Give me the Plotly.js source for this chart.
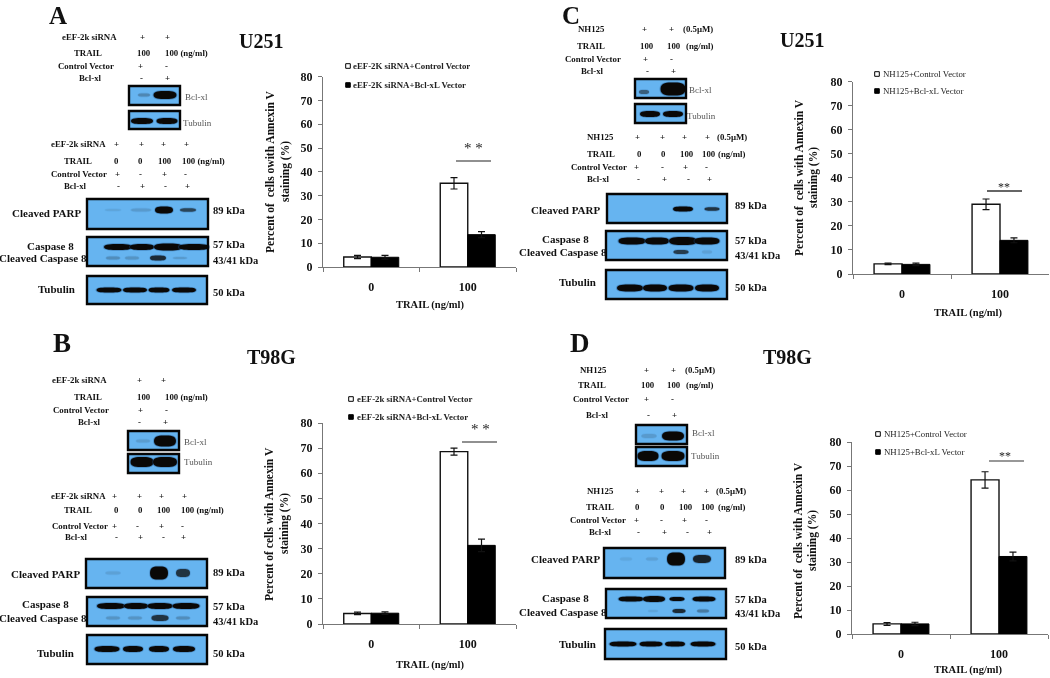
<!DOCTYPE html>
<html><head><meta charset="utf-8">
<script src="https://cdn.plot.ly/plotly-3.0.1.min.js"></script>
<style>html,body{margin:0;padding:0;background:#fff}#plot{width:1050px;height:678px;filter:blur(0.35px)}</style>
</head><body><div id="plot"></div>
<script>
// ---------- chart values ----------
const trailDoses = ["0","100"];
const yTicks = [0,10,20,30,40,50,60,70,80];
const controlA = [4.2,35.2],  controlErrA = [0.7,2.4], bclA = [4.1,13.6], bclErrA = [0.8,1.3];
const controlB = [4.2,68.6],  controlErrB = [0.5,1.4], bclB = [4.3,31.3], bclErrB = [0.5,2.5];
const controlC = [4.2,29.0],  controlErrC = [0.3,2.2], bclC = [4.0,14.0], bclErrC = [0.5,1.0];
const controlD = [4.2,64.2],  controlErrD = [0.6,3.4], bclD = [4.2,32.3], bclErrD = [0.7,1.8];
// blot band darkness (0 = none, 1 = saturated)
const A_bcl=[.35,1], A_tubTop=[1,1], A_parp=[.12,.2,1,.65], A_casp=[1,1,1,1], A_clv=[.3,.25,.8,.2], A_tub=[1,1,1,1];
const B_bcl=[.18,1], B_tubTop=[1,1], B_parp=[.15,1,.75], B_casp=[1,1,1,1], B_clv=[.25,.25,.75,.3], B_tub=[1,1,1,1];
const C_bclLow=[.5], C_bclHigh=[1], C_tubTop=[1,1], C_parp=[1,.75], C_casp=[1,1,1,1], C_clv=[.7,.15], C_tub=[1,1,1,1];
const D_bcl=[.2,1], D_tubTop=[1,1], D_parp=[.1,.15,1,.85], D_casp=[1,1,1,1], D_clv=[.12,.8,.45], D_tub=[1,1,1,1];

// ---------- layout helpers ----------
const W=1050,H=678,SERIF="Liberation Serif, Times New Roman, serif";
const BG="#66b4f0",DARK=[10,8,6],BGRGB=[102,180,240];
const fx=x=>x/W, fy=y=>1-y/H;
const annotations=[],shapes=[];
function t(x,y,text,size,o={}){annotations.push({x:fx(x),y:fy(y),xref:"paper",yref:"paper",text,showarrow:false,
  xanchor:o.a||"center",yanchor:"middle",textangle:o.angle||0,borderpad:0,
  font:{family:SERIF,size,color:o.c||"#111",weight:o.w||700}});}
function mix(v){const k=Math.min(1,v);const c=BGRGB.map((b,i)=>Math.round(b+(DARK[i]-b)*k));return `rgb(${c})`;}
function ell(cx,cy,w,h,fill,op){
  // a flattened, blunt-ended blot band
  const L=fx(cx-w/2),R=fx(cx+w/2),Tp=fy(cy-h/2),Bt=fy(cy+h/2),M=fy(cy),kx=w*0.28/W;
  const path=`M ${L} ${M} C ${L} ${Tp}, ${L+kx} ${Tp}, ${fx(cx)} ${Tp} C ${R-kx} ${Tp}, ${R} ${Tp}, ${R} ${M} C ${R} ${Bt}, ${R-kx} ${Bt}, ${fx(cx)} ${Bt} C ${L+kx} ${Bt}, ${L} ${Bt}, ${L} ${M} Z`;
  shapes.push({type:"path",xref:"paper",yref:"paper",path,fillcolor:fill,opacity:op,line:{width:0}});
}
function blot(x0,y0,x1,y1,rows){
  shapes.push({type:"rect",xref:"paper",yref:"paper",x0:fx(x0),x1:fx(x1),y0:fy(y0),y1:fy(y1),fillcolor:BG,line:{width:0}});
  rows.forEach(r=>r.vals.forEach((v,i)=>{
    const w=r.w[i]||r.w[0],h=r.h[i]||r.h[0];
    ell(r.xs[i],r.y,w*1.08,h+1.6,"#1c4a80",0.4*v);
    ell(r.xs[i],r.y,w,h,mix(v<.5?v*.75:v),1);
  }));
  shapes.push({type:"rect",xref:"paper",yref:"paper",x0:fx(x0),x1:fx(x1),y0:fy(y0),y1:fy(y1),line:{color:"#050505",width:2.4}});
}
function row(y,name,nx,items,size){t(nx,y,name,size||8.8);items.forEach(it=>{
  t(it[0],y,it[1],it[2]||8.8,{a:it[3]||"center"});});}
function legend(sx,y1,y2,lx,l1,l2,w){
  [[y1,"#fff"],[y2,"#000"]].forEach(([y,f])=>shapes.push({type:"rect",xref:"paper",yref:"paper",
    x0:fx(sx-2.3),x1:fx(sx+2.3),y0:fy(y-2.3),y1:fy(y+2.3),fillcolor:f,line:{color:"#000",width:1}}));
  t(lx,y1,l1,8.8,{a:"left",w,c:"#222"});t(lx,y2,l2,8.8,{a:"left",w,c:"#222"});
}
function sig(text,sx,sy,lx0,lx1,ly,color,lw,size){
  t(sx,sy,text,size,{w:400,c:"#222"});
  shapes.push({type:"line",xref:"paper",yref:"paper",x0:fx(lx0),x1:fx(lx1),y0:fy(ly),y1:fy(ly),line:{color,width:lw}});
}
function kda(x,a,b,c,d){[[a,"89 kDa"],[b,"57 kDa"],[c,"43/41 kDa"],[d,"50 kDa"]].forEach(([y,s])=>t(x,y,s,10.5,{a:"left"}));}
function blotNames(cp,cpy,c8,c8y,cc,ccy,tb,tby){t(cp,cpy,"Cleaved PARP",11);t(c8,c8y,"Caspase 8",11);t(cc,ccy,"Cleaved Caspase 8",11);t(tb,tby,"Tubulin",11);}

// ---------- panel A ----------
t(58,15,"A",25);t(238,41,"U251",20,{a:"left"});
row(37,"eEF-2k siRNA",89,[[142,"+"],[167,"+"]]);
row(53,"TRAIL",88,[[144,"100"],[164,"100 (ng/ml)",8.8,"left"]]);
row(66,"Control Vector",86,[[140,"+"],[166,"-"]]);
row(78,"Bcl-xl",90,[[141,"-"],[167,"+"]]);
t(184,97,"Bcl-xl",9,{a:"left",w:400,c:"#555"});t(182,123,"Tubulin",9,{a:"left",w:400,c:"#555"});
row(144,"eEF-2k siRNA",78,[[116,"+"],[141,"+"],[163,"+"],[186,"+"]]);
row(161,"TRAIL",78,[[116,"0"],[140,"0"],[165,"100"],[181,"100 (ng/ml)",8.8,"left"]]);
row(174,"Control Vector",79,[[117,"+"],[140,"-"],[164,"+"],[185,"-"]]);
row(186,"Bcl-xl",75,[[118,"-"],[142,"+"],[165,"-"],[187,"+"]]);
blot(129,86,180,105,[{y:95,xs:[144,165],w:[12,23],h:[3,8],vals:A_bcl}]);
blot(129,111,180,129,[{y:121,xs:[142,167],w:[22,21],h:[6,6],vals:A_tubTop}]);
blot(87,199,208,229,[{y:210,xs:[113,141,164,188],w:[16,20,18,16],h:[2,3,7,3.5],vals:A_parp}]);
blot(87,237,208,266,[{y:247,xs:[118,142,168,194],w:[28,24,28,30],h:[6,6,7,6],vals:A_casp},
  {y:258,xs:[113,132,158,180],w:[14,14,16,14],h:[3,3,5,2],vals:A_clv}]);
blot(87,276,207,304,[{y:290,xs:[109,135,159,184],w:[25,24,21,24],h:[5,5,5,5],vals:A_tub}]);
blotNames(46,213,50,246,43,258,56,289);kda(212,210,245,260,292);

// ---------- panel B ----------
t(62,343,"B",27);t(246,357,"T98G",20,{a:"left"});
row(380,"eEF-2k siRNA",79,[[139,"+"],[163,"+"]]);
row(397,"TRAIL",88,[[144,"100"],[164,"100 (ng/ml)",8.8,"left"]]);
row(410,"Control Vector",81,[[140,"+"],[166,"-"]]);
row(422,"Bcl-xl",89,[[139,"-"],[165,"+"]]);
t(183,442,"Bcl-xl",9,{a:"left",w:400,c:"#555"});t(183,462,"Tubulin",9,{a:"left",w:400,c:"#555"});
row(496,"eEF-2k siRNA",78,[[114,"+"],[139,"+"],[161,"+"],[184,"+"]]);
row(510,"TRAIL",78,[[116,"0"],[140,"0"],[164,"100"],[180,"100 (ng/ml)",8.8,"left"]]);
row(526,"Control Vector",80,[[114,"+"],[137,"-"],[161,"+"],[182,"-"]]);
row(537,"Bcl-xl",76,[[116,"-"],[140,"+"],[163,"-"],[183,"+"]]);
blot(128,431,179,450,[{y:441,xs:[143,165],w:[14,22],h:[3,11],vals:B_bcl}]);
blot(128,454,179,473,[{y:462,xs:[142,165],w:[23,24],h:[10,10],vals:B_tubTop}]);
blot(86,559,207,588,[{y:573,xs:[113,159,183],w:[15,18,14],h:[3,13,8],vals:B_parp}]);
blot(87,597,207,626,[{y:606,xs:[111,136,160,186],w:[28,24,25,27],h:[6,6,6,6],vals:B_casp},
  {y:618,xs:[113,135,160,183],w:[14,14,17,14],h:[3,3,6,3],vals:B_clv}]);
blot(87,635,207,664,[{y:649,xs:[107,133,159,184],w:[25,20,20,22],h:[6,6,6,6],vals:B_tub}]);
blotNames(45,574,45,604,43,618,55,653);kda(212,572,606,621,653);

// ---------- panel C ----------
t(571,15,"C",25);t(779,40,"U251",20,{a:"left"});
row(29,"NH125",591,[[644,"+"],[671,"+"],[682,"(0.5µM)",8.8,"left"]]);
row(46,"TRAIL",591,[[647,"100"],[674,"100"],[685,"(ng/ml)",8.8,"left"]]);
row(59,"Control Vector",593,[[645,"+"],[671,"-"]]);
row(71,"Bcl-xl",592,[[647,"-"],[673,"+"]]);
t(688,90,"Bcl-xl",9,{a:"left",w:400,c:"#555"});t(686,116,"Tubulin",9,{a:"left",w:400,c:"#555"});
row(137,"NH125",600,[[637,"+"],[662,"+"],[684,"+"],[707,"+"],[716,"(0.5µM)",8.8,"left"]]);
row(154,"TRAIL",601,[[639,"0"],[663,"0"],[687,"100"],[709,"100"],[717,"(ng/ml)",8.8,"left"]]);
row(167,"Control Vector",599,[[636,"+"],[662,"-"],[685,"+"],[706,"-"]]);
row(179,"Bcl-xl",598,[[638,"-"],[664,"+"],[688,"-"],[709,"+"]]);
blot(635,79,686,98,[{y:92,xs:[644],w:[10],h:[4],vals:C_bclLow},{y:89,xs:[673],w:[25],h:[13],vals:C_bclHigh}]);
blot(635,104,686,123,[{y:114,xs:[650,673],w:[20,20],h:[6,6],vals:C_tubTop}]);
blot(607,194,727,223,[{y:209,xs:[683,712],w:[20,15],h:[5,3.5],vals:C_parp}]);
blot(606,231,727,260,[{y:241,xs:[632,657,683,707],w:[27,24,28,25],h:[7,7,8,7],vals:C_casp},
  {y:252,xs:[681,707],w:[15,10],h:[4,3],vals:C_clv}]);
blot(606,270,727,299,[{y:288,xs:[630,655,681,707],w:[26,24,25,24],h:[7,7,7,7],vals:C_tub}]);
blotNames(565,210,565,239,563,252,577,282);kda(734,206,240,255,287);

// ---------- panel D ----------
t(580,343,"D",27);t(762,357,"T98G",20,{a:"left"});
row(370,"NH125",593,[[646,"+"],[673,"+"],[684,"(0.5µM)",8.8,"left"]]);
row(385,"TRAIL",592,[[648,"100"],[674,"100"],[685,"(ng/ml)",8.8,"left"]]);
row(399,"Control Vector",601,[[646,"+"],[672,"-"]]);
row(415,"Bcl-xl",597,[[648,"-"],[674,"+"]]);
t(691,433,"Bcl-xl",9,{a:"left",w:400,c:"#555"});t(690,456,"Tubulin",9,{a:"left",w:400,c:"#555"});
row(491,"NH125",600,[[637,"+"],[661,"+"],[683,"+"],[706,"+"],[715,"(0.5µM)",8.8,"left"]]);
row(507,"TRAIL",600,[[637,"0"],[662,"0"],[686,"100"],[708,"100"],[717,"(ng/ml)",8.8,"left"]]);
row(520,"Control Vector",598,[[636,"+"],[661,"-"],[684,"+"],[706,"-"]]);
row(532,"Bcl-xl",600,[[638,"-"],[664,"+"],[687,"-"],[709,"+"]]);
blot(636,425,687,444,[{y:436,xs:[649,673],w:[15,22],h:[4,9],vals:D_bcl}]);
blot(636,447,687,466,[{y:456,xs:[648,673],w:[21,23],h:[10,10],vals:D_tubTop}]);
blot(604,548,725,578,[{y:559,xs:[626,652,676,702],w:[12,12,18,18],h:[3,3,13,8],vals:D_parp}]);
blot(606,589,726,618,[{y:599,xs:[631,654,677,704],w:[25,22,15,23],h:[5,6,4,5],vals:D_casp},
  {y:611,xs:[653,679,703],w:[10,13,12],h:[2,4,3],vals:D_clv}]);
blot(605,629,726,659,[{y:644,xs:[623,651,675,703],w:[27,23,20,25],h:[5,5,5,5],vals:D_tub}]);
blotNames(565,559,565,598,563,612,577,644);kda(734,559,599,613,646);

// ---------- bar chart annotations ----------
t(270,172,"Percent of  cells owith Annexin V",11.5,{angle:-90});t(285,172,"staining (%)",11.5,{angle:-90});
t(269,524,"Percent of cells with Annexin V",11.5,{angle:-90});t(284,524,"staining (%)",11.5,{angle:-90});
t(799,178,"Percent of  cells with Annexin V",11.5,{angle:-90});t(813,178,"staining (%)",11.5,{angle:-90});
t(798,541,"Percent of  cells with Annexin V",11.5,{angle:-90});t(812,541,"staining (%)",11.5,{angle:-90});
t(430,305,"TRAIL (ng/ml)",10.5);t(430,665,"TRAIL (ng/ml)",10.5);t(968,313,"TRAIL (ng/ml)",10.5);t(968,670,"TRAIL (ng/ml)",10.5);
legend(348,66,85,352,"eEF-2K siRNA+Control Vector","eEF-2K siRNA+Bcl-xL Vector",700);
legend(351,399,417,356,"eEF-2k siRNA+Control Vector","eEF-2k siRNA+Bcl-xL Vector",700);
legend(877,74,91,882,"NH125+Control Vector","NH125+Bcl-xL Vector",400);
legend(878,434,452,883,"NH125+Control Vector","NH125+Bcl-xL Vector",400);
sig("* *",473,148,456,491,161,"#222",1.2,15);
sig("* *",480,429,462,497,442,"#222",1.2,15);
sig("**",1004,187,987,1022,191,"#666",2,12);
sig("**",1005,456,989,1024,461,"#333",1.2,12);

// ---------- traces and axes ----------
const panels=[
 {s:"",  ctl:controlA,ce:controlErrA,b:bclA,be:bclErrA,x:[323,516], y:[76.7,267], nm:["eEF-2K siRNA+Control Vector","eEF-2K siRNA+Bcl-xL Vector"]},
 {s:"2", ctl:controlB,ce:controlErrB,b:bclB,be:bclErrB,x:[323,516], y:[423,624],  nm:["eEF-2k siRNA+Control Vector","eEF-2k siRNA+Bcl-xL Vector"]},
 {s:"3", ctl:controlC,ce:controlErrC,b:bclC,be:bclErrC,x:[853,1049],y:[81.7,274], nm:["NH125+Control Vector","NH125+Bcl-xL Vector"]},
 {s:"4", ctl:controlD,ce:controlErrD,b:bclD,be:bclErrD,x:[852,1048],y:[442,634],  nm:["NH125+Control Vector","NH125+Bcl-xL Vector"]}];
const traces=[];
const layout={width:W,height:H,margin:{l:0,r:0,t:0,b:0,pad:0},paper_bgcolor:"#fff",plot_bgcolor:"rgba(0,0,0,0)",
  showlegend:false,barmode:"group",bargap:0.43,bargroupgap:0,annotations,shapes};
const tf={family:SERIF,size:12,color:"#111",weight:700};
panels.forEach(p=>{
  const err=a=>({type:"data",array:a,visible:true,color:"#111",thickness:1.2,width:3.5});
  traces.push({type:"bar",name:p.nm[0],x:trailDoses,y:p.ctl,xaxis:"x"+p.s,yaxis:"y"+p.s,marker:{color:"#fff",line:{color:"#111",width:1.4}},error_y:err(p.ce)});
  traces.push({type:"bar",name:p.nm[1],x:trailDoses,y:p.b,xaxis:"x"+p.s,yaxis:"y"+p.s,marker:{color:"#000",line:{color:"#000",width:1}},error_y:err(p.be)});
  layout["xaxis"+p.s]={domain:[fx(p.x[0]),fx(p.x[1])],anchor:"y"+p.s,type:"category",categoryorder:"array",categoryarray:trailDoses,
    range:[-0.5,1.5],tickson:"boundaries",ticks:"outside",ticklen:4,tickcolor:"#777",tickwidth:1,showline:true,linecolor:"#777",linewidth:1,
    showgrid:false,zeroline:false,tickfont:tf,ticklabelstandoff:9,fixedrange:true};
  layout["yaxis"+p.s]={domain:[fy(p.y[1]),fy(p.y[0])],anchor:"x"+p.s,range:[0,80],tickmode:"array",tickvals:yTicks,ticktext:yTicks.map(String),
    ticks:"outside",ticklen:4,tickcolor:"#777",tickwidth:1,showline:true,linecolor:"#777",linewidth:1,showgrid:false,zeroline:false,
    tickfont:tf,ticklabelstandoff:3,fixedrange:true};
});
Plotly.newPlot("plot",traces,layout,{displayModeBar:false,staticPlot:true});
</script></body></html>
